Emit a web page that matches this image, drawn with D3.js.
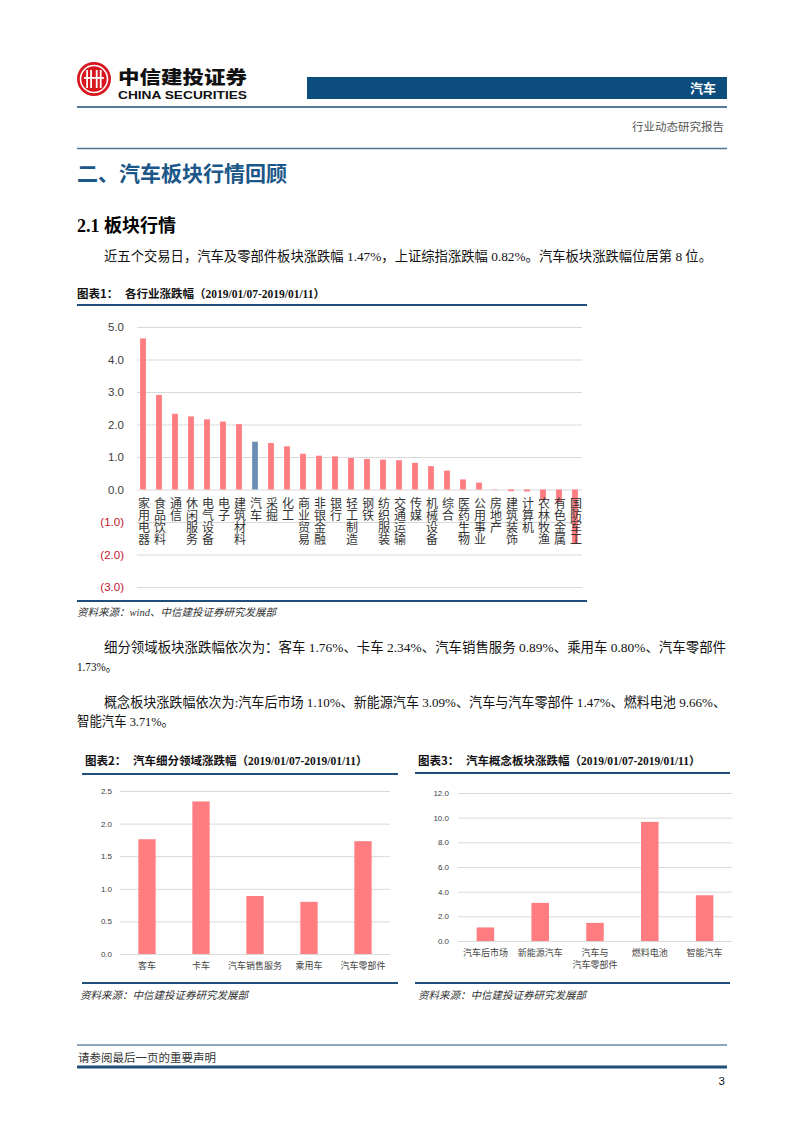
<!DOCTYPE html>
<html><head><meta charset="utf-8">
<script src="https://cdn.jsdelivr.net/npm/d3@7"></script>
<style>
html,body{margin:0;padding:0;background:#fff;}
svg{display:block;}
</style></head>
<body>
<svg id="page" width="802" height="1133"></svg>
<script>
// ---------- DATA ----------
const industryNames = ["家用电器","食品饮料","通信","休闲服务","电气设备","电子","建筑材料","汽车","采掘","化工","商业贸易","非银金融","银行","轻工制造","钢铁","纺织服装","交通运输","传媒","机械设备","综合","医药生物","公用事业","房地产","建筑装饰","计算机","农林牧渔","有色金属","国防军工"];
const industryChanges = [4.65,2.91,2.33,2.25,2.16,2.09,2.01,1.47,1.43,1.33,1.10,1.04,1.02,0.97,0.94,0.92,0.90,0.82,0.72,0.58,0.31,0.21,0.01,-0.05,-0.06,-0.33,-0.40,-1.68];
const highlightIndustry = "汽车";
const industryTicks = [-3,-2,-1,0,1,2,3,4,5];

const segmentNames = ["客车","卡车","汽车销售服务","乘用车","汽车零部件"];
const segmentChanges = [1.76,2.34,0.89,0.80,1.73];
const segmentTicks = [0,0.5,1.0,1.5,2.0,2.5];

const conceptNames = ["汽车后市场","新能源汽车","汽车与\n汽车零部件","燃料电池","智能汽车"];
const conceptChanges = [1.10,3.09,1.47,9.66,3.71];
const conceptTicks = [0,2,4,6,8,10,12];

// ---------- STYLE ----------
const RED_BAR = "#ff7c80";
const BLUE_BAR = "#6b8fb4";
const NAVY = "#1f4e79";
const GRID = "#d9d9d9";
const SERIF = "'Liberation Serif','Noto Sans CJK SC',serif";
const SANS = "'Liberation Sans','Noto Sans CJK SC',sans-serif";
const CJK = "'Noto Sans CJK SC',sans-serif";

const svg = d3.select("#page");
svg.append("rect").attr("width",802).attr("height",1133).attr("fill","#fff");

// ---------- HEADER ----------
const logo = svg.append("g");
logo.append("circle").attr("cx",94).attr("cy",79).attr("r",17).attr("fill","#d7161e");
logo.append("circle").attr("cx",94).attr("cy",79).attr("r",13.5).attr("fill","none").attr("stroke","#fff").attr("stroke-width",1.6);
[-7,-3,1,5].forEach((dx,i)=>{
  logo.append("rect").attr("x",94+dx-0.8+ (i>1?1.6:0)).attr("y",70).attr("width",1.8).attr("height",18).attr("fill","#fff");
});
logo.append("rect").attr("x",84).attr("y",77).attr("width",20).attr("height",1.8).attr("fill","#fff");
svg.append("text").attr("x",118).attr("y",83.5).attr("font-family",CJK).attr("font-weight",900)
  .attr("font-size",18).attr("fill","#111").text("中信建投证券").attr("textLength",129).attr("lengthAdjust","spacingAndGlyphs");
svg.append("text").attr("x",118).attr("y",99).attr("font-family","'Liberation Sans',Arial,sans-serif").attr("font-weight",700)
  .attr("font-size",11.5).attr("fill","#111").text("CHINA SECURITIES").attr("textLength",129).attr("lengthAdjust","spacingAndGlyphs");

svg.append("rect").attr("x",307).attr("y",77).attr("width",420).attr("height",22).attr("fill","#0c4d7e");
svg.append("text").attr("x",716).attr("y",93).attr("text-anchor","end").attr("font-family",CJK)
  .attr("font-weight",700).attr("font-size",13).attr("fill","#fff").text("汽车");
svg.append("line").attr("x1",77).attr("x2",727).attr("y1",107).attr("y2",107).attr("stroke",NAVY).attr("stroke-width",1.5);
svg.append("text").attr("x",724).attr("y",131).attr("text-anchor","end").attr("font-family",CJK)
  .attr("font-size",11.5).attr("fill","#555").text("行业动态研究报告");
svg.append("line").attr("x1",77).attr("x2",727).attr("y1",148.5).attr("y2",148.5).attr("stroke","#4f7592").attr("stroke-width",1.5);

svg.append("text").attr("x",77).attr("y",181).attr("font-family",CJK).attr("font-weight",700)
  .attr("font-size",21).attr("fill","#1b5788").text("二、汽车板块行情回顾");
svg.append("text").attr("x",77).attr("y",232).attr("font-family",SERIF).attr("font-weight",700)
  .attr("font-size",18).attr("fill","#000").text("2.1 板块行情");

function para(x,y,txt,len){
  const t = svg.append("text").attr("x",x).attr("y",y).attr("font-family",SERIF)
    .attr("font-size",13.5).attr("fill","#111").text(txt);
  if(len) t.attr("textLength",len).attr("lengthAdjust","spacingAndGlyphs");
}
para(104,261,"近五个交易日，汽车及零部件板块涨跌幅 1.47%，上证综指涨跌幅 0.82%。汽车板块涨跌幅位居第 8 位。",608);
para(104,652,"细分领域板块涨跌幅依次为：客车 1.76%、卡车 2.34%、汽车销售服务 0.89%、乘用车 0.80%、汽车零部件",622);
para(77,671,"1.73%。",40);
para(104,707,"概念板块涨跌幅依次为:汽车后市场 1.10%、新能源汽车 3.09%、汽车与汽车零部件 1.47%、燃料电池 9.66%、",622);
para(77,726,"智能汽车 3.71%。",97);

// ---------- FIGURE TITLES / SOURCES ----------
function figTitle(x,y,label,title){
  svg.append("text").attr("x",x).attr("y",y).attr("font-family",CJK).attr("font-weight",700)
    .attr("font-size",11.5).attr("fill","#111").text(label);
  svg.append("text").attr("x",x+48).attr("y",y).attr("font-family",SERIF).attr("font-weight",700)
    .attr("font-size",11.5).attr("fill","#111").text(title);
}
function rule(x1,x2,y,w){
  svg.append("line").attr("x1",x1).attr("x2",x2).attr("y1",y).attr("y2",y).attr("stroke",NAVY).attr("stroke-width",w||2);
}
function source(x,y,txt){
  svg.append("text").attr("x",x).attr("y",y).attr("font-family",SERIF).attr("font-style","italic")
    .attr("font-size",10.5).attr("fill","#333").text(txt);
}
figTitle(77,298,"图表1：","各行业涨跌幅（2019/01/07-2019/01/11）");
rule(77,587,305);
rule(77,587,601);
source(77,616,"资料来源：wind、中信建投证券研究发展部");

figTitle(85,765,"图表2：","汽车细分领域涨跌幅（2019/01/07-2019/01/11）");
rule(82,398,774);
rule(82,398,983);
source(80,999,"资料来源：中信建投证券研究发展部");

figTitle(418,765,"图表3：","汽车概念板块涨跌幅（2019/01/07-2019/01/11）");
rule(415,730,773);
rule(415,730,983);
source(418,999,"资料来源：中信建投证券研究发展部");

// ---------- CHART 1 ----------
{
  const x = d3.scaleBand().domain(industryNames).range([135,583]).paddingInner(0.64).paddingOuter(0.32);
  const y = d3.scaleLinear().domain([-3,5]).range([587,327]);
  const g = svg.append("g");
  const ax = g.append("g").attr("transform","translate(137,0)")
    .call(d3.axisLeft(y).tickValues(industryTicks).tickSize(-445).tickPadding(13)
      .tickFormat(d => d<0 ? "("+d3.format(".1f")(-d)+")" : d3.format(".1f")(d)));
  ax.select(".domain").remove();
  ax.selectAll(".tick line").attr("stroke",GRID).attr("stroke-width",1);
  ax.selectAll(".tick text").attr("font-family",SANS).attr("font-size",11.5)
    .attr("fill",d => d<0 ? "#c0152b" : "#404040");
  g.selectAll("rect.bar").data(industryNames).join("rect").attr("class","bar")
    .attr("x",d=>x(d)).attr("width",x.bandwidth())
    .attr("y",(d,i)=>y(Math.max(0,industryChanges[i])))
    .attr("height",(d,i)=>Math.abs(y(industryChanges[i])-y(0)))
    .attr("fill",d=> d===highlightIndustry ? BLUE_BAR : RED_BAR);
  g.selectAll("text.cat").data(industryNames).join("text").attr("class","cat")
    .attr("x",d=>x(d)+x.bandwidth()/2+1).attr("y",497)
    .style("writing-mode","vertical-rl").style("text-orientation","upright")
    .attr("text-anchor","start")
    .attr("font-family",CJK).attr("font-size",12).attr("fill","#333").text(d=>d);
}

// ---------- CHART 2 ----------
{
  const x = d3.scaleBand().domain(segmentNames).range([120,390]).paddingInner(0.68).paddingOuter(0.34);
  const y = d3.scaleLinear().domain([0,2.5]).range([954,791]);
  const g = svg.append("g");
  const ax = g.append("g").attr("transform","translate(120,0)")
    .call(d3.axisLeft(y).tickValues(segmentTicks).tickSize(-270).tickPadding(8).tickFormat(d3.format(".1f")));
  ax.select(".domain").remove();
  ax.selectAll(".tick line").attr("stroke",GRID);
  ax.selectAll(".tick text").attr("font-family",SANS).attr("font-size",8).attr("fill","#404040");
  g.selectAll("rect").data(segmentNames).join("rect")
    .attr("x",d=>x(d)).attr("width",x.bandwidth())
    .attr("y",(d,i)=>y(segmentChanges[i])).attr("height",(d,i)=>y(0)-y(segmentChanges[i]))
    .attr("fill",RED_BAR);
  g.selectAll("text.cat").data(segmentNames).join("text").attr("class","cat")
    .attr("x",d=>x(d)+x.bandwidth()/2).attr("y",969).attr("text-anchor","middle")
    .attr("font-family",CJK).attr("font-size",9).attr("fill","#444").text(d=>d);
}

// ---------- CHART 3 ----------
{
  const x = d3.scaleBand().domain(conceptNames).range([458,732]).paddingInner(0.68).paddingOuter(0.34);
  const y = d3.scaleLinear().domain([0,12]).range([941,793]);
  const g = svg.append("g");
  const ax = g.append("g").attr("transform","translate(458,0)")
    .call(d3.axisLeft(y).tickValues(conceptTicks).tickSize(-274).tickPadding(9).tickFormat(d3.format(".1f")));
  ax.select(".domain").remove();
  ax.selectAll(".tick line").attr("stroke",GRID);
  ax.selectAll(".tick text").attr("font-family",SANS).attr("font-size",8).attr("fill","#404040");
  g.selectAll("rect").data(conceptNames).join("rect")
    .attr("x",d=>x(d)).attr("width",x.bandwidth())
    .attr("y",(d,i)=>y(conceptChanges[i])).attr("height",(d,i)=>y(0)-y(conceptChanges[i]))
    .attr("fill",RED_BAR);
  const lab = g.selectAll("text.cat").data(conceptNames).join("text").attr("class","cat")
    .attr("font-family",CJK).attr("font-size",9).attr("fill","#444").attr("text-anchor","middle");
  lab.each(function(d){
    const t = d3.select(this);
    const cx = x(d)+x.bandwidth()/2;
    d.split("\n").forEach((line,k)=>{
      t.append("tspan").attr("x",cx).attr("y",956+k*11.5).text(line);
    });
  });
}

// ---------- FOOTER ----------
svg.append("line").attr("x1",77).attr("x2",727).attr("y1",1045).attr("y2",1045).attr("stroke",NAVY).attr("stroke-width",1);
svg.append("text").attr("x",78).attr("y",1062).attr("font-family",CJK).attr("font-size",11.5).attr("fill","#333").text("请参阅最后一页的重要声明");
svg.append("line").attr("x1",77).attr("x2",727).attr("y1",1067).attr("y2",1067).attr("stroke",NAVY).attr("stroke-width",3);
svg.append("text").attr("x",725).attr("y",1085).attr("text-anchor","end").attr("font-family",SANS).attr("font-size",11.5).attr("fill","#111").text("3");
</script>
</body></html>
